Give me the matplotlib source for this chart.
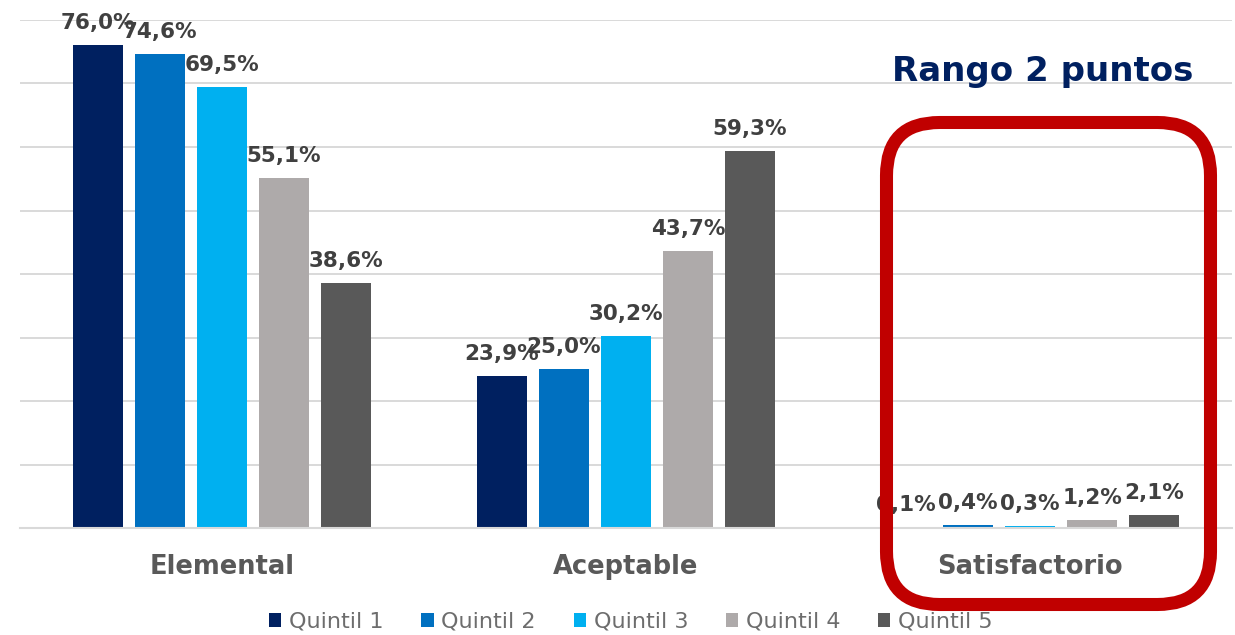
import numpy as np
import matplotlib.pyplot as plt
from matplotlib.patches import FancyBboxPatch, Patch
from matplotlib.transforms import IdentityTransform

# data (percent)
categories = ["Elemental", "Aceptable", "Satisfactorio"]
series_names = ["Quintil 1", "Quintil 2", "Quintil 3", "Quintil 4", "Quintil 5"]
quintil_1 = [76.0, 23.9, 0.1]
quintil_2 = [74.6, 25.0, 0.4]
quintil_3 = [69.5, 30.2, 0.3]
quintil_4 = [55.1, 43.7, 1.2]
quintil_5 = [38.6, 59.3, 2.1]
colors = ["#002060", "#0070C0", "#00B0F0", "#AEAAAA", "#595959"]


def fmt(v):
    return f"{v:.1f}%".replace(".", ",")


def main():
    W, H = 1235, 635
    fig = plt.figure(figsize=(W / 100, H / 100), dpi=100)
    ax = fig.add_axes([20 / W, (H - 528) / H, 1212 / W, 508 / H])

    values = [quintil_1, quintil_2, quintil_3, quintil_4, quintil_5]
    x = np.arange(len(categories))
    width = 0.124
    step = 0.1535

    for i, (vals, col) in enumerate(zip(values, colors)):
        pos = x + (i - 2) * step
        ax.bar(pos, vals, width=width, color=col, zorder=2)
        for px, v in zip(pos, vals):
            ax.annotate(fmt(v), (px, v), xytext=(0, 11.5), textcoords="offset points",
                        ha="center", va="baseline", fontsize=15.5, fontweight="bold",
                        color="#404040", family="DejaVu Sans", zorder=3)

    ax.set_xlim(-0.5, 2.5)
    ax.set_ylim(0, 80)
    ax.set_yticks(np.arange(0, 81, 10))
    ax.yaxis.grid(True, color="#D9D9D9", linewidth=1.4)
    ax.set_axisbelow(True)
    ax.tick_params(axis="y", left=False, labelleft=False)
    ax.set_xticks(x)
    ax.set_xticklabels(categories, fontsize=18.5, fontweight="bold", color="#595959",
                       family="DejaVu Sans")
    ax.tick_params(axis="x", length=0, pad=19)
    for s in ["top", "left", "right"]:
        ax.spines[s].set_visible(False)
    ax.spines["bottom"].set_color("#D9D9D9")
    ax.spines["bottom"].set_linewidth(1.5)

    # title-like annotation
    fig.text(1043 / W, 1 - 72 / H, "Rango 2 puntos", ha="center", va="center",
             fontsize=24.5, fontweight="bold", color="#002060", family="DejaVu Sans")

    # legend
    handles = [Patch(facecolor=c, edgecolor="none") for c in colors]
    fig.legend(handles, series_names, loc="center", bbox_to_anchor=(631 / W, 1 - 622 / H),
               ncol=5, frameon=False, handlelength=0.55, handleheight=0.55,
               handletextpad=0.35, columnspacing=1.7,
               prop={"family": "DejaVu Sans", "size": 16})
    for t in fig.legends[0].get_texts():
        t.set_color("#6d6d6d")

    # red rounded frame around Satisfactorio
    box = FancyBboxPatch((886.5, H - 604.5), 324, 482, boxstyle="round,pad=0,rounding_size=53",
                         transform=IdentityTransform(), facecolor="none",
                         edgecolor="#C00000", linewidth=9.4, zorder=10)
    fig.add_artist(box)

    fig.savefig("out.png", dpi=100)
    plt.close(fig)


if __name__ == "__main__":
    main()
